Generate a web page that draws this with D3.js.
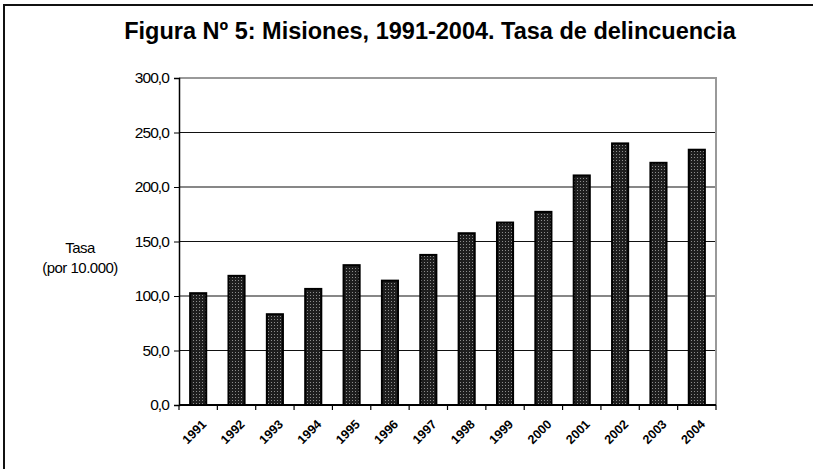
<!DOCTYPE html>
<html>
<head>
<meta charset="utf-8">
<script src="https://cdn.jsdelivr.net/npm/d3@7"></script>
<style>
  body { margin: 0; background: #fff; }
  svg { display: block; font-family: "Liberation Sans", Arial, sans-serif; }
</style>
</head>
<body>
<div id="chart"></div>
<script>
// data
const years = ["1991","1992","1993","1994","1995","1996","1997","1998","1999","2000","2001","2002","2003","2004"];
const tasa = [102.6, 118.5, 83.3, 106.5, 128.3, 114.1, 137.7, 157.6, 167.4, 177.2, 210.6, 240.0, 222.2, 234.2];
const yTicks = [0, 50, 100, 150, 200, 250, 300];

const width = 813, height = 469;
const plot = {left: 179, top: 78, right: 716, bottom: 405};

let svg = d3.select("#chart")
    .append("svg")
    .attr("width", width)
    .attr("height", height);

// dotted fill for the bars
let pat = svg.append("defs").append("pattern")
    .attr("id", "dots")
    .attr("width", 3).attr("height", 3)
    .attr("patternUnits", "userSpaceOnUse");
pat.append("rect").attr("width", 3).attr("height", 3).attr("fill", "#1e1e1e");
pat.append("rect").attr("x", 1).attr("y", 1).attr("width", 1).attr("height", 1).attr("fill", "#8c8c8c");

// outer frame: only top and left
svg.append("line").attr("x1", 3).attr("x2", width).attr("y1", 5).attr("y2", 5)
    .attr("stroke", "#111").attr("stroke-width", 2);
svg.append("line").attr("x1", 4).attr("x2", 4).attr("y1", 5).attr("y2", height)
    .attr("stroke", "#111").attr("stroke-width", 2);

svg.append("text")
    .attr("x", 430).attr("y", 39)
    .style("text-anchor", "middle")
    .style("font-size", "23.5px")
    .style("font-weight", "bold")
    .text("Figura Nº 5: Misiones, 1991-2004. Tasa de delincuencia");

let x = d3.scaleBand()
    .domain(years)
    .range([plot.left, plot.right])
    .paddingInner(0.58)
    .paddingOuter(0.29);

let y = d3.scaleLinear()
    .domain([0, 300])
    .range([plot.bottom, plot.top]);

// gridlines
svg.append("g").selectAll("line").data(yTicks.filter(d => d > 0 && d < 300))
    .enter().append("line")
    .attr("x1", plot.left).attr("x2", plot.right)
    .attr("y1", d => y(d)).attr("y2", d => y(d))
    .attr("stroke", "#111").attr("stroke-width", 1.2);

// plot area top/right border (grey)
svg.append("path")
    .attr("d", `M${plot.left},${y(300)}H${plot.right}V${plot.bottom}`)
    .attr("fill", "none").attr("stroke", "#999").attr("stroke-width", 2);

// bars
svg.append("g").selectAll("rect").data(tasa)
    .enter().append("rect")
    .attr("x", (d, i) => x(years[i]))
    .attr("y", d => y(d))
    .attr("width", x.bandwidth())
    .attr("height", d => y(0) - y(d))
    .attr("fill", "url(#dots)")
    .attr("stroke", "#000")
    .attr("stroke-width", 2);

// y axis
let yAxis = svg.append("g")
    .attr("transform", `translate(${plot.left},0)`)
    .call(d3.axisLeft(y).tickValues(yTicks).tickSize(5).tickPadding(5)
        .tickFormat(d => d3.format(".1f")(d).replace(".", ",")));
yAxis.select(".domain").attr("stroke", "#000").attr("stroke-width", 1.5);
yAxis.selectAll("text")
    .style("font-size", "15.5px")
    .style("letter-spacing", "-0.9px")
    .style("font-family", "Liberation Sans, Arial")
    .attr("fill", "#000");

// x axis with ticks at category boundaries
let xAxis = svg.append("g")
    .attr("transform", `translate(0,${plot.bottom})`);
xAxis.append("line").attr("x1", plot.left).attr("x2", plot.right)
    .attr("stroke", "#000").attr("stroke-width", 2);
xAxis.selectAll(".tk").data(d3.range(years.length + 1))
    .enter().append("line")
    .attr("x1", i => plot.left + i * (plot.right - plot.left) / years.length)
    .attr("x2", i => plot.left + i * (plot.right - plot.left) / years.length)
    .attr("y1", 0).attr("y2", 5)
    .attr("stroke", "#000").attr("stroke-width", 1.2);
xAxis.selectAll(".lbl").data(years)
    .enter().append("text")
    .attr("transform", d => `translate(${x(d) + x.bandwidth() / 2 + 9},${20}) rotate(-45)`)
    .style("text-anchor", "end")
    .style("font-size", "12.5px")
    .style("font-weight", "bold")
    .text(d => d);

// y label
let ylab = svg.append("text")
    .style("text-anchor", "middle")
    .style("font-size", "15px")
    .style("letter-spacing", "-0.5px");
ylab.append("tspan").attr("x", 80).attr("y", 253).text("Tasa");
ylab.append("tspan").attr("x", 80).attr("y", 273).text("(por 10.000)");
</script>
</body>
</html>
